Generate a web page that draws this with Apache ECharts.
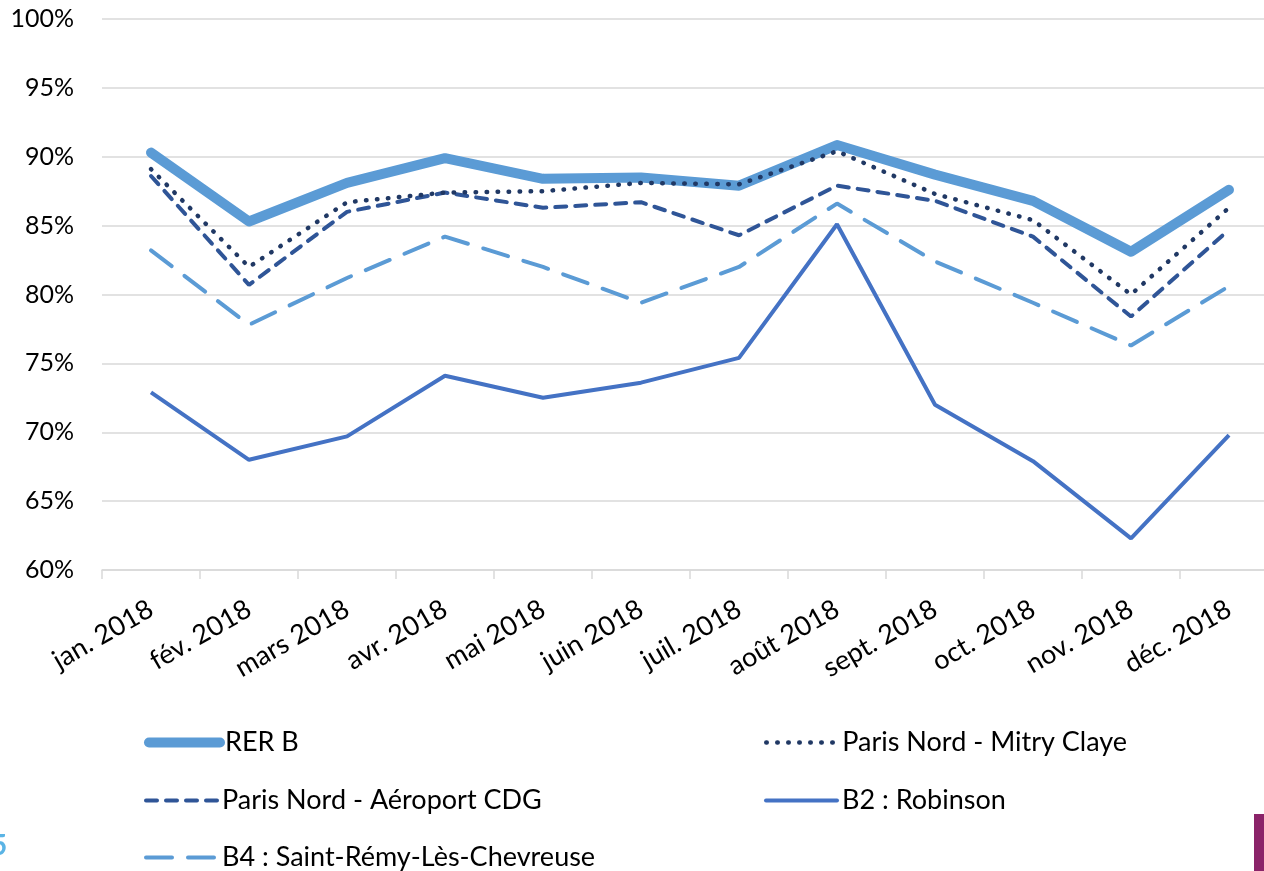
<!DOCTYPE html>
<html>
<head>
<meta charset="utf-8">
<script src="https://cdn.jsdelivr.net/npm/echarts@6/dist/echarts.min.js"></script>
<style>
  html, body { margin: 0; padding: 0; background: #fff; }
  #main { width: 1264px; height: 871px; }
</style>
</head>
<body>
<div id="main"></div>
<script>
const months = ["jan. 2018", "fév. 2018", "mars 2018", "avr. 2018", "mai 2018", "juin 2018",
  "juil. 2018", "août 2018", "sept. 2018", "oct. 2018", "nov. 2018", "déc. 2018"];

// taux en %
const rerB = [90.3, 85.3, 88.1, 89.9, 88.4, 88.5, 87.9, 90.85, 88.7, 86.8, 83.1, 87.6];
const mitryClaye = [89.1, 82.0, 86.7, 87.4, 87.5, 88.1, 88.0, 90.4, 87.3, 85.4, 80.0, 86.3];
const aeroportCDG = [88.6, 80.7, 86.0, 87.4, 86.3, 86.7, 84.3, 87.9, 86.8, 84.2, 78.4, 84.7];
const robinson = [72.9, 68.0, 69.7, 74.1, 72.5, 73.6, 75.4, 85.1, 72.0, 67.9, 62.3, 69.8];
const saintRemy = [83.2, 77.8, 81.2, 84.2, 82.0, 79.4, 82.0, 86.6, 82.4, 79.4, 76.3, 80.6];

const chartDom = document.getElementById("main");
const myChart = echarts.init(chartDom);

const font = "Lato, 'Open Sans', sans-serif";

// une légende par entrée, placée comme dans l'original (2 colonnes)
function legendAt(name, left, top) {
  return {
    left: left,
    top: top,
    padding: 0,
    itemWidth: 71,
    itemHeight: 14,
    itemGap: 0,
    itemStyle: { opacity: 0 },
    lineStyle: { width: "inherit", cap: "round" },
    textStyle: { fontSize: 27, color: "#000", fontFamily: font },
    data: [name]
  };
}

const option = {
  animation: false,
  grid: {
    left: 102,
    top: 19,
    width: 1176,
    bottom: 301,
    outerBoundsMode: "none"
  },
  xAxis: {
    type: "category",
    data: months,
    boundaryGap: true,
    axisLine: { lineStyle: { color: "#d9d9d9", width: 1.5 } },
    axisTick: { show: true, length: 9, lineStyle: { color: "#d9d9d9", width: 1.5 } },
    axisLabel: {
      rotate: 30,
      interval: 0,
      margin: 37,
      fontSize: 27,
      color: "#000",
      fontFamily: font
    }
  },
  yAxis: {
    type: "value",
    min: 60,
    max: 100,
    interval: 5,
    axisLine: { show: false },
    axisTick: { show: false },
    splitLine: { lineStyle: { color: "#d9d9d9", width: 1.5 } },
    axisLabel: {
      formatter: "{value}%",
      margin: 28,
      fontSize: 25,
      color: "#000",
      fontFamily: font
    }
  },
  legend: [
    legendAt("RER B", 144, 729),
    legendAt("Paris Nord - Mitry Claye", 764, 729),
    legendAt("Paris Nord - Aéroport CDG", 144, 787),
    legendAt("B2 : Robinson", 764, 787),
    legendAt("B4 : Saint-Rémy-Lès-Chevreuse", 144, 844)
  ],
  series: [
    {
      name: "RER B",
      type: "line",
      data: rerB,
      symbol: "none",
      z: 1,
      lineStyle: { color: "#5b9bd5", width: 10, cap: "round", join: "round" },
      itemStyle: { color: "#5b9bd5" }
    },
    {
      name: "Paris Nord - Mitry Claye",
      type: "line",
      data: mitryClaye,
      symbol: "none",
      z: 3,
      lineStyle: { color: "#203864", width: 4.5, type: [0.5, 10.5], cap: "round" },
      itemStyle: { color: "#203864" }
    },
    {
      name: "Paris Nord - Aéroport CDG",
      type: "line",
      data: aeroportCDG,
      symbol: "none",
      z: 2,
      lineStyle: { color: "#2f5597", width: 4, type: [11, 9], cap: "round" },
      itemStyle: { color: "#2f5597" }
    },
    {
      name: "B2 : Robinson",
      type: "line",
      data: robinson,
      symbol: "none",
      z: 2,
      lineStyle: { color: "#4472c4", width: 4 },
      itemStyle: { color: "#4472c4" }
    },
    {
      name: "B4 : Saint-Rémy-Lès-Chevreuse",
      type: "line",
      data: saintRemy,
      symbol: "none",
      z: 2,
      lineStyle: { color: "#5b9bd5", width: 4, type: [26, 16], cap: "round" },
      itemStyle: { color: "#5b9bd5" }
    }
  ],
  graphic: [
    {
      type: "text",
      left: -9,
      top: 832,
      style: { text: "5", fontSize: 28, fontWeight: "bold", fill: "#5bb4e5", fontFamily: font }
    },
    {
      type: "rect",
      left: 1254,
      top: 814,
      shape: { width: 14, height: 60 },
      style: { fill: "#8b2369" }
    }
  ]
};

option && myChart.setOption(option);
</script>
</body>
</html>
